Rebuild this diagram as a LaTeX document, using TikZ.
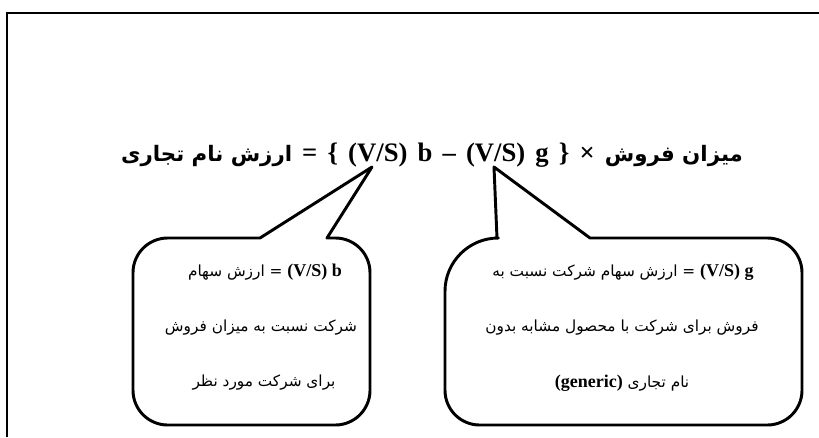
\documentclass[tikz,border=0pt]{standalone}
\usepackage{fontspec}
\setmainfont{Liberation Serif}
\newfontfamily\fafont[Script=Arabic]{DejaVu Sans}
\TeXXeTstate=1
\newcommand{\fa}[1]{{\fafont\beginR #1\endR}}
\newcommand{\lat}[1]{\beginL{\rmfamily\bfseries\fontsize{13.5}{15}\selectfont #1}\endL{}}

\begin{document}
\begin{tikzpicture}[x=0.75pt, y=-0.75pt,
  frame/.style={line width=1.6pt},
  callout/.style={line width=2.2pt, line join=round},
  title/.style={font=\fontsize{20}{24}\selectfont\bfseries, inner sep=0pt},
  note/.style={font=\fontsize{11.5}{14}\selectfont, inner sep=0pt}]
\useasboundingbox (0,0) rectangle (819,437);
% ---- page frame (only top and left edges show) ----
\draw[frame] (7,437) -- (7,13) -- (819,13);
% ---- formula ----
\node[title] (formula) at (432,155)
 {{\fontsize{16}{19}\selectfont\fa{ارزش نام تجاری}}\hspace{.38em}%
  {\spaceskip=.38em\relax = \{ (V/S) b – (V/S) g \} ×}\hspace{.38em}%
  {\fontsize{16}{19}\selectfont\fa{میزان فروش}}};
\coordinate (tipb) at (372,167);   % points at first (V/S)
\coordinate (tipg) at (494,167);   % points at second (V/S)
% ---- left callout: (V/S) b ----
\draw[callout] (260,238) -- (tipb) -- (327,238) [rounded corners=26]
  -- (370,238) -- (370,425) -- (133,425) -- (133,238) [sharp corners] -- cycle;
\node[note] (b1) at (265,272) {\fa{\lat{(V/S) b} = ارزش سهام}};
\node[note] (b2) at (261,328) {\fa{شرکت نسبت به میزان فروش}};
\node[note] (b3) at (264,383) {\fa{برای شرکت مورد نظر}};
% ---- right callout: (V/S) g ----
\draw[callout] (497,238) -- (tipg) -- (590,238) [rounded corners=26]
  -- (802,238) -- (802,425) -- (445,425) [rounded corners=40] -- (445,238)
  [sharp corners] -- cycle;
\node[note] (g1) at (623,272) {\fa{\lat{(V/S) g} = ارزش سهام شرکت نسبت به}};
\node[note] (g2) at (622,328) {\fa{فروش برای شرکت با محصول مشابه بدون}};
\node[note] (g3) at (622,383) {\fa{نام تجاری \lat{(generic)}}};
\end{tikzpicture}
\end{document}
